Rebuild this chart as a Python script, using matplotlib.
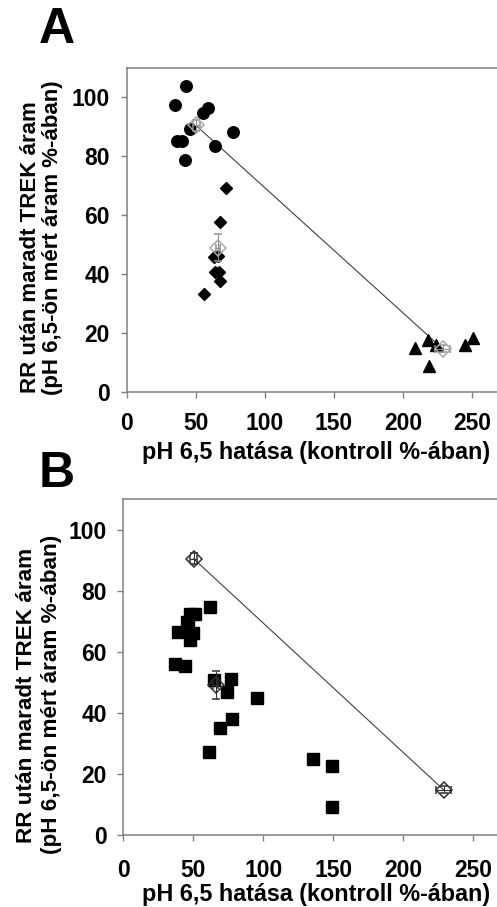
import matplotlib.pyplot as plt

plt.rcParams['font.family'] = ['Liberation Sans', 'DejaVu Sans']
plt.rcParams['font.weight'] = 'bold'

# panel A: individual cells, three groups
circ_x = [42.8, 35.1, 55.3, 58.9, 45.7, 76.9, 36.5, 39.7, 63.7, 42.5]
circ_y = [103.8, 97.6, 94.6, 96.3, 89.2, 88.4, 85.2, 85.2, 83.6, 78.8]
diam_x = [72.1, 67.8, 63.0, 66.1, 63.7, 66.8, 67.3, 56.0]
diam_y = [69.4, 57.6, 46.0, 46.2, 40.9, 40.9, 37.9, 33.2]
tri_x = [208.4, 218.3, 223.6, 218.8, 245.2, 250.5]
tri_y = [14.9, 17.7, 16.0, 8.9, 16.0, 18.3]

# group means with SEM
mean_x = [50.2, 65.9, 228.8]
mean_y = [90.5, 49.1, 14.7]
mean_xerr = [2.5, 1.5, 5.5]
mean_yerr = [1.8, 4.5, 1.2]

# panel B: cells of the second set
sq_x = [61.9, 47.6, 51.2, 45.3, 46.5, 39.3, 50.0, 47.6, 36.9, 44.1,
        64.8, 76.9, 73.8, 95.2, 77.6, 69.0, 61.4, 135.2, 148.8, 148.8]
sq_y = [74.6, 72.2, 72.2, 69.7, 68.0, 66.4, 66.1, 63.9, 55.8, 55.4,
        50.6, 51.1, 46.8, 44.7, 38.0, 34.8, 27.1, 24.9, 22.5, 8.9]

xticks = [0, 50, 100, 150, 200, 250]
yticks = [0, 20, 40, 60, 80, 100]
ylab1 = 'RR után maradt TREK áram'
ylab2 = '(pH 6,5-ön mért áram %-ában)'
xlab = 'pH 6,5 hatása (kontroll %-ában)'

W, H = 497, 907
fig = plt.figure(figsize=(W / 100, H / 100), dpi=100)


def px_axes(left, top, right, bottom):
    return fig.add_axes([left / W, 1 - bottom / H, (right - left) / W, (bottom - top) / H])


def style(ax, xmax, xpad):
    ax.set_xlim(0, xmax)
    ax.set_ylim(0, 110)
    ax.set_xticks(xticks)
    ax.set_yticks(yticks)
    for s in ['left', 'bottom', 'top']:
        ax.spines[s].set_color('#808080')
        ax.spines[s].set_linewidth(1.1)
    ax.spines['right'].set_visible(False)
    ax.tick_params(axis='both', colors='#808080', labelcolor='black', length=4,
                   width=1, labelsize=16.5)
    ax.tick_params(axis='x', pad=xpad)
    ax.tick_params(axis='y', pad=8)
    for lab in ax.get_xticklabels() + ax.get_yticklabels():
        lab.set_fontweight('bold')


axA = px_axes(126.7, 68, 497, 392.3)
style(axA, 268, 10.5)
axA.plot(mean_x[::2], mean_y[::2], color='#404040', lw=0.8, zorder=1)
axA.plot(circ_x, circ_y, 'o', color='black', ms=8.3, zorder=2)
axA.plot(diam_x, diam_y, 'D', color='black', ms=6.3, zorder=2)
axA.plot(tri_x, tri_y, '^', color='black', ms=8.3, zorder=2)
axA.errorbar(mean_x, mean_y, xerr=mean_xerr, yerr=mean_yerr, fmt='D', ms=8.5,
             mfc='none', mec='#a8a8a8', mew=1.1, ecolor='#909090', elinewidth=0.8,
             capsize=3, capthick=0.8, zorder=3)

axB = px_axes(123.3, 499.3, 497, 834.5)
style(axB, 267, 13.5)
axB.plot(mean_x[::2], mean_y[::2], color='#404040', lw=0.8, zorder=1)
axB.plot(sq_x, sq_y, 's', color='black', ms=8, zorder=2)
axB.errorbar(mean_x, mean_y, xerr=mean_xerr, yerr=mean_yerr, fmt='D', ms=8.5,
             mfc='none', mec='#303030', mew=1.1, ecolor='#303030', elinewidth=0.8,
             capsize=3, capthick=0.8, zorder=3)

# axis titles and panel letters
fig.text(31 / W, 1 - 247 / H, ylab1, rotation=90, ha='center', va='center',
         fontsize=16, fontweight='bold')
fig.text(53 / W, 1 - 238 / H, ylab2, rotation=90, ha='center', va='center',
         fontsize=16, fontweight='bold')
fig.text(316 / W, 1 - 452 / H, xlab, ha='center', va='center',
         fontsize=16.8, fontweight='bold')
fig.text(27 / W, 1 - 695 / H, ylab1, rotation=90, ha='center', va='center',
         fontsize=16.2, fontweight='bold')
fig.text(52 / W, 1 - 694 / H, ylab2, rotation=90, ha='center', va='center',
         fontsize=16.2, fontweight='bold')
fig.text(316 / W, 1 - 895 / H, xlab, ha='center', va='center',
         fontsize=16.8, fontweight='bold')
fig.text(57 / W, 1 - 30 / H, 'A', ha='center', va='center', fontsize=36,
         fontweight='bold')
fig.text(57 / W, 1 - 474 / H, 'B', ha='center', va='center', fontsize=36,
         fontweight='bold')

fig.savefig('out.png', dpi=100)
